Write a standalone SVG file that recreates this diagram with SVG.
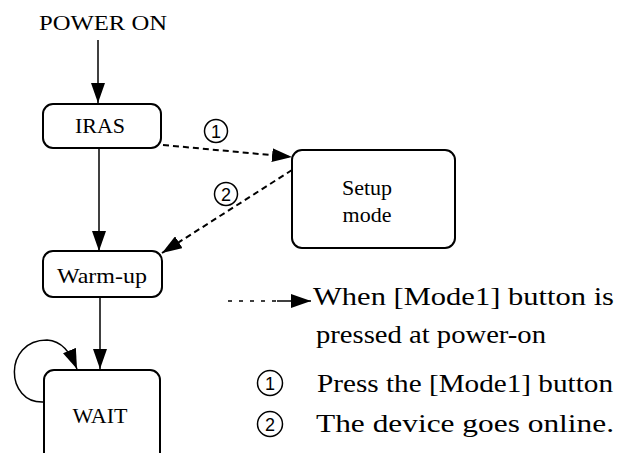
<svg xmlns="http://www.w3.org/2000/svg" width="621" height="453" viewBox="0 0 621 453">
<style>
.box{fill:#fff;stroke:#000;stroke-width:2}
.t{font-family:"Liberation Serif","Times New Roman",serif;font-size:22px;fill:#000}
.lg{font-family:"Liberation Serif","Times New Roman",serif;font-size:26px;fill:#000}
.num{font-family:"Liberation Sans",Arial,sans-serif;font-size:18px;fill:#000;text-anchor:middle}
.circ{fill:none;stroke:#000;stroke-width:1.5}
.ln{fill:none;stroke:#000;stroke-width:1.5}
.dash{fill:none;stroke:#000;stroke-width:2;stroke-dasharray:6 4}
.dot{fill:none;stroke:#000;stroke-width:1.5;stroke-dasharray:4 7}
</style>
<defs>
<marker id="ah" markerWidth="20" markerHeight="14" refX="20" refY="7" orient="auto" markerUnits="userSpaceOnUse">
<path d="M0,0 L20,7 L0,14 z" fill="#000"/>
</marker>
</defs>
<rect width="621" height="453" fill="#fff"/>
<g id="connectors">
<path class="ln" d="M98,40 L98,103" marker-end="url(#ah)"/>
<path class="ln" d="M99,148 L99,251" marker-end="url(#ah)"/>
<path class="ln" d="M100,297 L100,369" marker-end="url(#ah)"/>
<path class="dash" d="M163,145 L292,157" marker-end="url(#ah)"/>
<path class="dash" d="M292,170 L162,253" marker-end="url(#ah)"/>
<path class="ln" d="M44,402 C5,404 3,340 47,340 C62,341 70,352 77,369" marker-end="url(#ah)"/>
<g id="lbl1"><circle class="circ" cx="216" cy="131" r="11.5"/><text class="num" x="216" y="137.5">1</text></g>
<g id="lbl2"><circle class="circ" cx="226" cy="194" r="11.5"/><text class="num" x="226" y="200.5">2</text></g>
</g>
<g id="start"><text class="t" x="39" y="30" textLength="128" lengthAdjust="spacingAndGlyphs">POWER ON</text></g>
<g id="iras"><rect class="box" x="43" y="104" width="118" height="44" rx="10"/><text class="t" x="100" y="133" text-anchor="middle">IRAS</text></g>
<g id="setup"><rect class="box" x="292" y="150" width="163" height="98" rx="10"/><text class="t" x="367" y="195" text-anchor="middle">Setup</text><text class="t" x="367" y="222" text-anchor="middle">mode</text></g>
<g id="warmup"><rect class="box" x="43" y="251" width="119" height="46" rx="10"/><text class="t" x="102" y="283" text-anchor="middle" textLength="90" lengthAdjust="spacingAndGlyphs">Warm-up</text></g>
<g id="wait"><rect class="box" x="44" y="370" width="116" height="100" rx="10"/><text class="t" x="100" y="423" text-anchor="middle">WAIT</text></g>
<g id="legend">
<path class="dot" d="M228,301 L277,301"/>
<path class="ln" d="M277,301 L311,301" marker-end="url(#ah)"/>
<text class="lg" x="313" y="305" textLength="301" lengthAdjust="spacingAndGlyphs">When [Mode1] button is</text>
<text class="lg" x="316" y="343" textLength="230" lengthAdjust="spacingAndGlyphs">pressed at power-on</text>
<circle class="circ" cx="270" cy="383" r="12.5"/><text class="num" x="270" y="389.5">1</text>
<text class="lg" x="317" y="392" textLength="296" lengthAdjust="spacingAndGlyphs">Press the [Mode1] button</text>
<circle class="circ" cx="270" cy="424" r="12.5"/><text class="num" x="270" y="430.5">2</text>
<text class="lg" x="316" y="432" textLength="298" lengthAdjust="spacingAndGlyphs">The device goes online.</text>
</g>
</svg>
